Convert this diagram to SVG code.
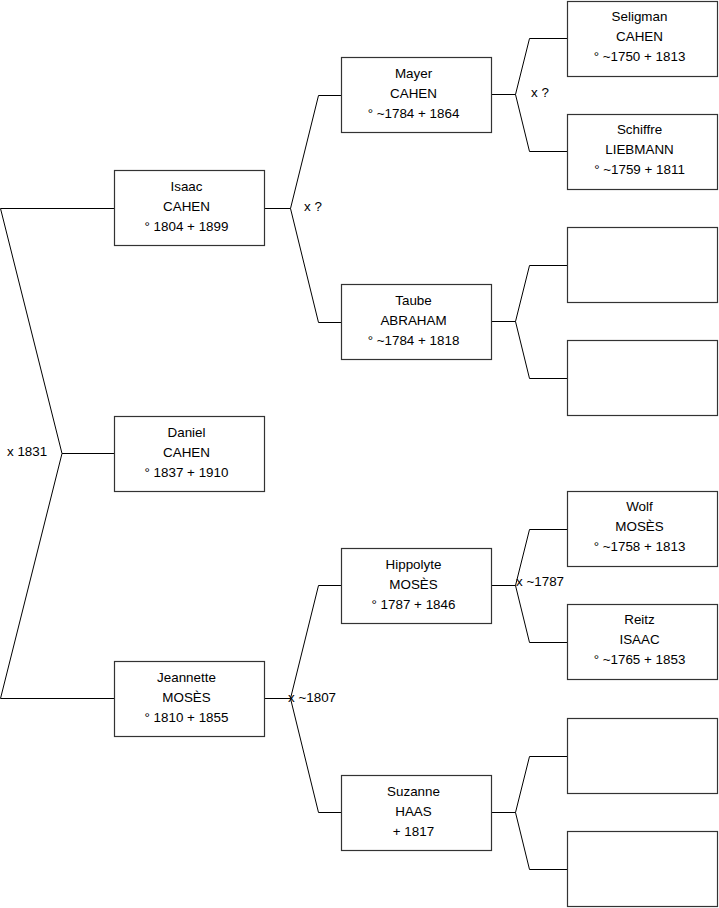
<svg xmlns="http://www.w3.org/2000/svg" width="719" height="908" viewBox="0 0 719 908">
<style>
.box{fill:#fff;stroke:#333;stroke-width:1.2}
.c{fill:none;stroke:#000;stroke-width:1}
text{font-family:"Liberation Sans",Arial,sans-serif;font-size:13.4px;fill:#000}
.t{text-anchor:middle}
</style>
<rect width="719" height="908" fill="#fff"/>
<g id="connectors">
<path class="c" d="M114,208.5 H0.5 L62,453.5 H114 M62,453.5 L0.5,698.5 H114"/>
<path class="c" d="M265,208.5 H290.5 M341,95.5 H318.5 L290.5,208.5 L318.5,322.5 H341"/>
<path class="c" d="M265,698.5 H290.5 M341,585.5 H318.5 L290.5,698.5 L318.5,812.5 H341"/>
<path class="c" d="M492,94.5 H515.5 M567,38.5 H529.5 L515.5,94.5 L529.5,151.5 H567"/>
<path class="c" d="M492,321.5 H515.5 M567,265.5 H529.5 L515.5,321.5 L529.5,378.5 H567"/>
<path class="c" d="M492,585.5 H515.5 M567,529.5 H529.5 L515.5,585.5 L529.5,642.5 H567"/>
<path class="c" d="M492,812.5 H515.5 M567,756.5 H529.5 L515.5,812.5 L529.5,869.5 H567"/>
<text x="7" y="456">x 1831</text>
<text x="304" y="211">x ?</text>
<text x="288" y="702">x ~1807</text>
<text x="531" y="97">x ?</text>
<text x="516" y="586">x ~1787</text>
</g>
<g id="isaac"><rect class="box" x="114.5" y="170.5" width="150" height="75"/><text class="t" x="186.5" y="190.5">Isaac</text><text class="t" x="186.5" y="210.5">CAHEN</text><text class="t" x="186.5" y="230.5">° 1804 + 1899</text></g>
<g id="daniel"><rect class="box" x="114.5" y="416.5" width="150" height="75"/><text class="t" x="186.5" y="436.5">Daniel</text><text class="t" x="186.5" y="456.5">CAHEN</text><text class="t" x="186.5" y="476.5">° 1837 + 1910</text></g>
<g id="jeannette"><rect class="box" x="114.5" y="661.5" width="150" height="75"/><text class="t" x="186.5" y="681.5">Jeannette</text><text class="t" x="186.5" y="701.5">MOSÈS</text><text class="t" x="186.5" y="721.5">° 1810 + 1855</text></g>
<g id="mayer"><rect class="box" x="341.5" y="57.5" width="150" height="75"/><text class="t" x="413.5" y="77.5">Mayer</text><text class="t" x="413.5" y="97.5">CAHEN</text><text class="t" x="413.5" y="117.5">° ~1784 + 1864</text></g>
<g id="taube"><rect class="box" x="341.5" y="284.5" width="150" height="75"/><text class="t" x="413.5" y="304.5">Taube</text><text class="t" x="413.5" y="324.5">ABRAHAM</text><text class="t" x="413.5" y="344.5">° ~1784 + 1818</text></g>
<g id="hippolyte"><rect class="box" x="341.5" y="548.5" width="150" height="75"/><text class="t" x="413.5" y="568.5">Hippolyte</text><text class="t" x="413.5" y="588.5">MOSÈS</text><text class="t" x="413.5" y="608.5">° 1787 + 1846</text></g>
<g id="suzanne"><rect class="box" x="341.5" y="775.5" width="150" height="75"/><text class="t" x="413.5" y="795.5">Suzanne</text><text class="t" x="413.5" y="815.5">HAAS</text><text class="t" x="413.5" y="835.5">+ 1817</text></g>
<g id="seligman"><rect class="box" x="567.5" y="1.5" width="150" height="75"/><text class="t" x="639.5" y="20.5">Seligman</text><text class="t" x="639.5" y="40.5">CAHEN</text><text class="t" x="639.5" y="60.5">° ~1750 + 1813</text></g>
<g id="schiffre"><rect class="box" x="567.5" y="114.5" width="150" height="75"/><text class="t" x="639.5" y="133.5">Schiffre</text><text class="t" x="639.5" y="153.5">LIEBMANN</text><text class="t" x="639.5" y="173.5">° ~1759 + 1811</text></g>
<g id="empty1"><rect class="box" x="567.5" y="227.5" width="150" height="75"/></g>
<g id="empty2"><rect class="box" x="567.5" y="340.5" width="150" height="75"/></g>
<g id="wolf"><rect class="box" x="567.5" y="491.5" width="150" height="75"/><text class="t" x="639.5" y="510.5">Wolf</text><text class="t" x="639.5" y="530.5">MOSÈS</text><text class="t" x="639.5" y="550.5">° ~1758 + 1813</text></g>
<g id="reitz"><rect class="box" x="567.5" y="604.5" width="150" height="75"/><text class="t" x="639.5" y="623.5">Reitz</text><text class="t" x="639.5" y="643.5">ISAAC</text><text class="t" x="639.5" y="663.5">° ~1765 + 1853</text></g>
<g id="empty3"><rect class="box" x="567.5" y="718.5" width="150" height="75"/></g>
<g id="empty4"><rect class="box" x="567.5" y="831.5" width="150" height="75"/></g>
</svg>
